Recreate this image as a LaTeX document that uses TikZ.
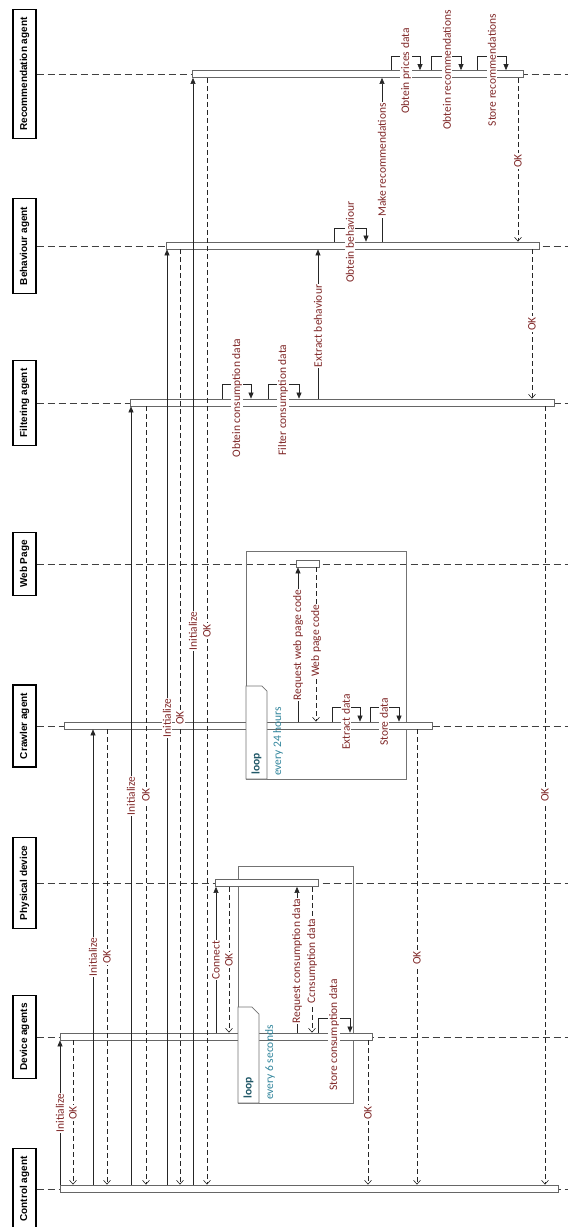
\documentclass[tikz,border=0pt]{standalone}
\usepackage{fontspec}
\usetikzlibrary{arrows.meta}
\newfontfamily\lblfont{Carlito}
\newfontfamily\headfont{Liberation Sans}
\definecolor{lblred}{RGB}{128,40,40}
\definecolor{loopdark}{RGB}{33,88,104}
\definecolor{looptxt}{RGB}{49,133,156}
\tikzset{
  head/.style={draw=black, line width=1.3pt, rotate=90, font=\headfont\bfseries\fontsize{10}{12}\selectfont, inner xsep=8pt, inner ysep=0pt, minimum height=23pt, fill=white},
  life/.style={draw=black!75, line width=0.8pt, dash pattern=on 7pt off 4pt},
  actbar/.style={draw=black!60, fill=white, line width=0.7pt, minimum height=7pt, inner sep=0pt, anchor=west},
  call/.style={draw=black!85, line width=0.6pt, -{Triangle[length=6pt,width=5pt]}},
  ret/.style={draw=black!85, line width=0.6pt, dash pattern=on 5pt off 3pt, -{Straight Barb[length=4pt,width=7pt]}},
  lbl/.style={rotate=90, fill=white, inner sep=0.8pt, text=lblred, font=\lblfont\fontsize{11.5}{13}\selectfont},
  loopframe/.style={draw=black!55, line width=0.7pt},
  looptab/.style={draw=black!55, line width=0.7pt, fill=white},
  looplbl/.style={rotate=90, anchor=west, inner sep=0pt, text=loopdark, font=\lblfont\bfseries\fontsize{11.5}{13}\selectfont},
  loopcond/.style={rotate=90, anchor=west, inner sep=0pt, text=looptxt, font=\lblfont\fontsize{11.5}{13}\selectfont},
}
\begin{document}
\begin{tikzpicture}[x=1pt,y=-1pt]
\useasboundingbox (0,0) rectangle (568,1227);
% headers
\node[head] (hrec) at (24.5,74) {Recommendation agent};
\node[head] (hbeh) at (24.5,246) {Behaviour agent};
\node[head] (hfil) at (24.5,403) {Filtering agent};
\node[head] (hweb) at (24.5,564) {Web Page};
\node[head] (hcra) at (24.5,726) {Crawler agent};
\node[head] (hphy) at (24.5,883) {Physical device};
\node[head] (hdev) at (24.5,1037) {Device agents};
\node[head] (hctl) at (24.5,1189) {Control agent};
% lifeline ends
\coordinate (erec) at (568,74);
\coordinate (ebeh) at (568,246);
\coordinate (efil) at (568,403);
\coordinate (eweb) at (568,564);
\coordinate (ecra) at (568,726);
\coordinate (ephy) at (568,883);
\coordinate (edev) at (568,1037);
\coordinate (ectl) at (568,1189);
\draw[life] (hrec.south) -- (erec);
\draw[life] (hbeh.south) -- (ebeh);
\draw[life] (hfil.south) -- (efil);
\draw[life] (hweb.south) -- (eweb);
\draw[life] (hcra.south) -- (ecra);
\draw[life] (hphy.south) -- (ephy);
\draw[life] (hdev.south) -- (edev);
\draw[life] (hctl.south) -- (ectl);
% frames
\draw[loopframe] (238,866) rectangle (353,1103);
\draw[loopframe] (246,551) rectangle (406,779);
% activation bars
\node[actbar, minimum width=331pt] (rec) at (192,74) {};
\node[actbar, minimum width=373pt] (beh) at (166,245.5) {};
\node[actbar, minimum width=424pt] (fil) at (130,402.5) {};
\node[actbar, minimum width=23pt] (web) at (296,563.5) {};
\node[actbar, minimum width=368pt] (cra) at (64,725.5) {};
\node[actbar, minimum width=103pt] (phy) at (215,883) {};
\node[actbar, minimum width=312pt] (dev) at (60,1036.5) {};
\node[actbar, minimum width=498pt] (ctl) at (60,1188.5) {};
% loop tabs
\draw[looptab] (238,1103) -- (238,1007) -- (252,1007) -- (259,1014) -- (259,1103) -- cycle;
\draw[looptab] (246,779) -- (246,686) -- (262,686) -- (267,691) -- (267,779) -- cycle;
\node[looplbl] (lp1) at (248.5,1099) {loop};
\node[loopcond] (lc1) at (270,1100) {every 6 seconds};
\node[looplbl] (lp2) at (256.5,775) {loop};
\node[loopcond] (lc2) at (278,776) {every 24 hours};
% initialisation messages
\draw[call] (60,0 |- ctl.north) -- (60,0 |- dev.south);
\draw[ret] (73,0 |- dev.south) -- (73,0 |- ctl.north);
\draw[call] (93,0 |- ctl.north) -- (93,0 |- cra.south);
\draw[ret] (107,0 |- cra.south) -- (107,0 |- ctl.north);
\draw[call] (131,0 |- ctl.north) -- (131,0 |- fil.south);
\draw[ret] (146,0 |- fil.south) -- (146,0 |- ctl.north);
\draw[call] (167,0 |- ctl.north) -- (167,0 |- beh.south);
\draw[ret] (180,0 |- beh.south) -- (180,0 |- ctl.north);
\draw[call] (193,0 |- ctl.north) -- (193,0 |- rec.south);
\draw[ret] (207,0 |- rec.south) -- (207,0 |- ctl.north);
% device agents
\draw[call] (216,0 |- dev.north) -- (216,0 |- phy.south);
\draw[ret] (229,0 |- phy.south) -- (229,0 |- dev.north);
\draw[call] (297,0 |- dev.north) -- (297,0 |- phy.south);
\draw[ret] (312,0 |- phy.south) -- (312,0 |- dev.north);
\draw[call] (318,0 |- dev.north) -- (318,1018) -- (350,1018) -- (350,0 |- dev.north);
\draw[ret] (368,0 |- dev.south) -- (368,0 |- ctl.north);
% crawler
\draw[call] (298,0 |- cra.north) -- (298,0 |- web.south);
\draw[ret] (316,0 |- web.south) -- (316,0 |- cra.north);
\draw[call] (332,0 |- cra.north) -- (332,707) -- (360,707) -- (360,0 |- cra.north);
\draw[call] (370,0 |- cra.north) -- (370,707) -- (399,707) -- (399,0 |- cra.north);
\draw[ret] (417,0 |- cra.south) -- (417,0 |- ctl.north);
% filtering
\draw[call] (222,0 |- fil.north) -- (222,384) -- (251,384) -- (251,0 |- fil.north);
\draw[call] (268,0 |- fil.north) -- (268,384) -- (299,384) -- (299,0 |- fil.north);
\draw[call] (318,0 |- fil.north) -- (318,0 |- beh.south);
\draw[ret] (532,0 |- beh.south) -- (532,0 |- fil.north);
\draw[ret] (545,0 |- fil.south) -- (545,0 |- ctl.north);
% behaviour
\draw[call] (334,0 |- beh.north) -- (334,228) -- (366,228) -- (366,0 |- beh.north);
\draw[call] (382,0 |- beh.north) -- (382,0 |- rec.south);
% recommendation
\draw[call] (391,0 |- rec.north) -- (391,56) -- (420,56) -- (420,0 |- rec.north);
\draw[call] (431,0 |- rec.north) -- (431,56) -- (461,56) -- (461,0 |- rec.north);
\draw[call] (477,0 |- rec.north) -- (477,56) -- (506,56) -- (506,0 |- rec.north);
\draw[ret] (518,0 |- rec.south) -- (518,0 |- beh.north);
% labels
\node[lbl] (t1) at (60,1113) {Initialize};
\node[lbl] (t2) at (73,1113) {OK};
\node[lbl] (t3) at (93,957) {Initialize};
\node[lbl] (t4) at (107,957) {OK};
\node[lbl] (t5) at (131,796) {Initialize};
\node[lbl] (t6) at (146,795) {OK};
\node[lbl] (t7) at (167,718) {Initialize};
\node[lbl] (t8) at (180,718) {OK};
\node[lbl] (t9) at (193,631) {Initialize};
\node[lbl] (t10) at (207,631) {OK};
\node[lbl] (t11) at (216,960) {Connect};
\node[lbl] (t12) at (229,960) {OK};
\node[lbl] (t13) at (297,961) {Request consumption data};
\node[lbl] (t14) at (312,961) {Ccnsumption data};
\node[lbl] (t15) at (334,1035) {Store consumption data};
\node[lbl] (t16) at (368,1113) {OK};
\node[lbl] (t17) at (298,645) {Request web page code};
\node[lbl] (t18) at (316,641) {Web page code};
\node[lbl] (t19) at (346,722) {Extract data};
\node[lbl] (t20) at (384,722) {Store data};
\node[lbl] (t21) at (417,958) {OK};
\node[lbl] (t22) at (237,398) {Obtein consumption data};
\node[lbl] (t23) at (283,400) {Filter consumption data};
\node[lbl] (t24) at (318,326) {Extract behaviour};
\node[lbl] (t25) at (532,324) {OK};
\node[lbl] (t26) at (545,795) {OK};
\node[lbl] (t27) at (350,242) {Obtein behaviour};
\node[lbl] (t28) at (382,160) {Make recommendations};
\node[lbl] (t29) at (406,71) {Obtein prices data};
\node[lbl] (t30) at (447,70) {Obtein recommendations};
\node[lbl] (t31) at (492,70) {Store recommendations};
\node[lbl] (t32) at (518,161) {OK};
\end{tikzpicture}
\end{document}
